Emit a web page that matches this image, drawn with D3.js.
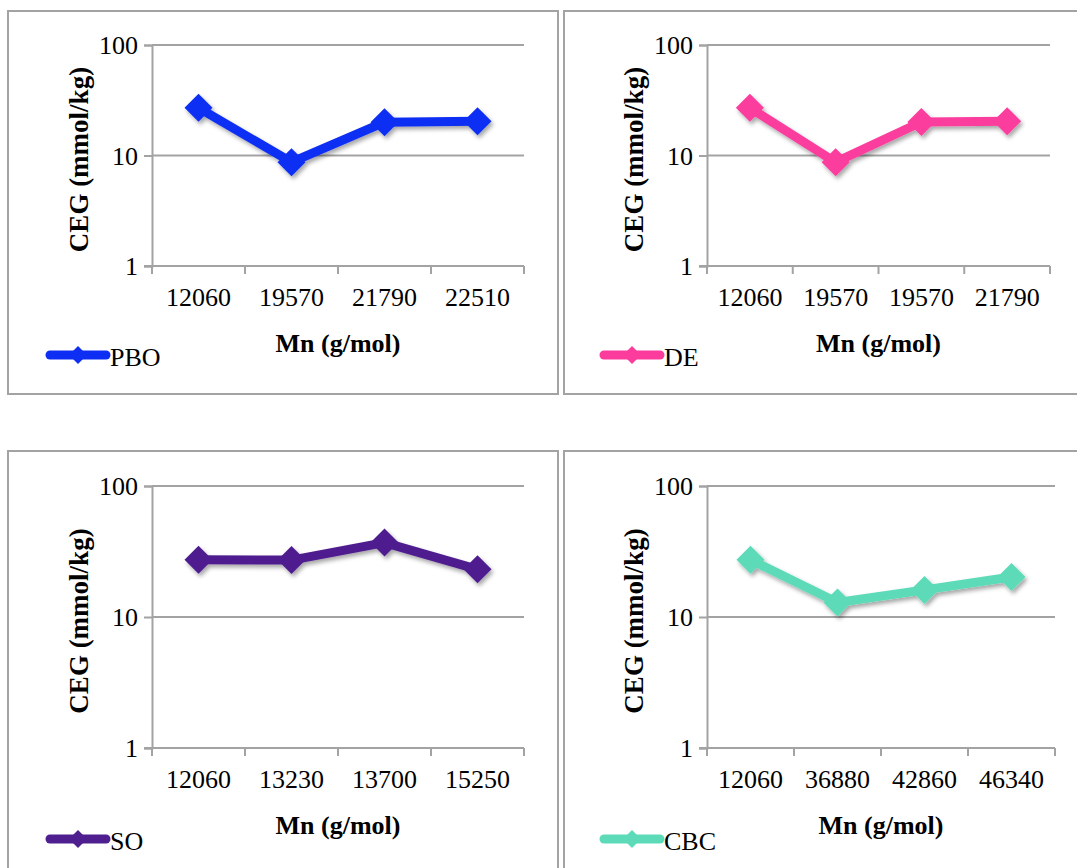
<!DOCTYPE html>
<html>
<head>
<meta charset="utf-8">
<script src="https://cdn.jsdelivr.net/npm/d3@7"></script>
<style>
  html, body { margin: 0; padding: 0; background: #fff; }
  svg { display: block; }
  svg text { fill: #000; }
</style>
</head>
<body>
<svg id="chart" width="1077" height="868"></svg>
<script>
// Carboxyl end-group content (mmol/kg) against number-average molar mass, one panel per additive
const pboLabels = ["12060", "19570", "21790", "22510"];
const pboValues = [27, 8.7, 20, 20.4];

const deLabels = ["12060", "19570", "19570", "21790"];
const deValues = [27, 8.7, 20.1, 20.4];

const soLabels = ["12060", "13230", "13700", "15250"];
const soValues = [27.3, 27.2, 37, 23.1];

const cbcLabels = ["12060", "36880", "42860", "46340"];
const cbcValues = [27.3, 12.9, 16.1, 20.2];

const yTicks = [1, 10, 100];
const xTitle = "Mn (g/mol)";
const yTitle = "CEG (mmol/kg)";

const panels = [
  { name: "PBO", labels: pboLabels, values: pboValues, color: "#0f2ef3",
    box: [8, 11, 550, 383], plot: [152, 524, 45, 266], legendX: 50, legendY: 355 },
  { name: "DE", labels: deLabels, values: deValues, color: "#fb3c9d",
    box: [564, 11, 540, 383], plot: [707, 1050, 45, 266], legendX: 604, legendY: 355 },
  { name: "SO", labels: soLabels, values: soValues, color: "#4f1f8f",
    box: [8, 451, 550, 440], plot: [152, 524, 486, 748], legendX: 50, legendY: 839 },
  { name: "CBC", labels: cbcLabels, values: cbcValues, color: "#5ddbb8",
    box: [564, 451, 540, 440], plot: [707, 1055, 486, 748], legendX: 604, legendY: 839 }
];

const fontStack = "'Liberation Serif', 'Times New Roman', serif";
const svg = d3.select("#chart").attr("font-family", fontStack);
const grey = "#a3a3a3";

const defs = svg.append("defs");
const shadow = defs.append("filter").attr("id", "shadow")
  .attr("x", "-50%").attr("y", "-50%").attr("width", "200%").attr("height", "200%");
shadow.append("feDropShadow").attr("dx", 2).attr("dy", 3).attr("stdDeviation", 2)
  .attr("flood-color", "#000").attr("flood-opacity", 0.35);

function diamond(r) {
  return `M0,${-r}L${r},0L0,${r}L${-r},0Z`;
}

panels.forEach(p => {
  const g = svg.append("g");
  const [bx, by, bw, bh] = p.box;
  g.append("rect").attr("x", bx).attr("y", by).attr("width", bw).attr("height", bh)
    .attr("fill", "none").attr("stroke", grey).attr("stroke-width", 2);

  const [x0, x1, yTop, yBot] = p.plot;
  const idx = p.labels.map((_, i) => i);
  const x = d3.scaleBand().domain(idx).range([x0, x1]).paddingInner(0).paddingOuter(0);
  const y = d3.scaleLog().domain([1, 100]).range([yBot, yTop]);

  // horizontal gridlines (above the baseline)
  g.append("g").selectAll("line").data(yTicks.filter(t => t > 1)).join("line")
    .attr("x1", x0).attr("x2", x1)
    .attr("y1", d => y(d)).attr("y2", d => y(d))
    .attr("stroke", grey).attr("stroke-width", 2);

  // value axis
  const yAxis = g.append("g").attr("transform", `translate(${x0},0)`)
    .call(d3.axisLeft(y).tickValues(yTicks).tickFormat(d3.format("d")).tickSize(8).tickPadding(6));
  yAxis.attr("font-family", fontStack).attr("font-size", 26);
  yAxis.select(".domain").attr("stroke", grey).attr("stroke-width", 2);
  yAxis.selectAll(".tick line").attr("stroke", grey).attr("stroke-width", 2);
  yAxis.selectAll(".tick text").attr("dy", "0.34em");

  // category axis: labels centred on categories, tick marks between them
  const xAxis = g.append("g").attr("transform", `translate(0,${yBot})`)
    .call(d3.axisBottom(x).tickFormat(i => p.labels[i]).tickSize(0).tickPadding(22));
  xAxis.attr("font-family", fontStack).attr("font-size", 26);
  xAxis.select(".domain").remove();
  xAxis.selectAll(".tick text").attr("dy", "0.7em");
  const edges = idx.map(i => x(i)).concat([x1]);
  g.append("line").attr("x1", x0 - 8).attr("x2", x1).attr("y1", yBot).attr("y2", yBot)
    .attr("stroke", grey).attr("stroke-width", 2);
  g.append("g").selectAll("line").data(edges).join("line")
    .attr("x1", d => d).attr("x2", d => d).attr("y1", yBot).attr("y2", yBot + 8)
    .attr("stroke", grey).attr("stroke-width", 2);

  // axis titles
  g.append("text").attr("x", (x0 + x1) / 2).attr("y", yBot + 86)
    .attr("text-anchor", "middle").attr("font-size", 26).attr("font-weight", "bold")
    .text(xTitle);
  g.append("text")
    .attr("transform", `translate(${x0 - 73},${(yTop + yBot) / 2 + 4}) rotate(-90)`)
    .attr("text-anchor", "middle").attr("dy", "0.35em")
    .attr("font-size", 27).attr("font-weight", "bold")
    .text(yTitle);

  // series line and markers
  const pts = p.values.map((v, i) => [x(i) + x.bandwidth() / 2, y(v)]);
  const series = g.append("g").attr("filter", "url(#shadow)");
  series.append("path").attr("d", d3.line()(pts))
    .attr("fill", "none").attr("stroke", p.color).attr("stroke-width", 9)
    .attr("stroke-linejoin", "round");
  series.selectAll("path.m").data(pts).join("path").attr("class", "m")
    .attr("transform", d => `translate(${d[0]},${d[1]})`)
    .attr("d", diamond(14)).attr("fill", p.color);

  // legend
  const lg = g.append("g").attr("transform", `translate(${p.legendX},${p.legendY})`);
  lg.append("line").attr("x1", 0).attr("x2", 56).attr("y1", 0).attr("y2", 0)
    .attr("stroke", p.color).attr("stroke-width", 9).attr("stroke-linecap", "round");
  lg.append("path").attr("transform", "translate(28,0)").attr("d", diamond(9)).attr("fill", p.color);
  lg.append("text").attr("x", 60).attr("y", 11).attr("font-size", 26).text(p.name);
});
</script>
</body>
</html>
